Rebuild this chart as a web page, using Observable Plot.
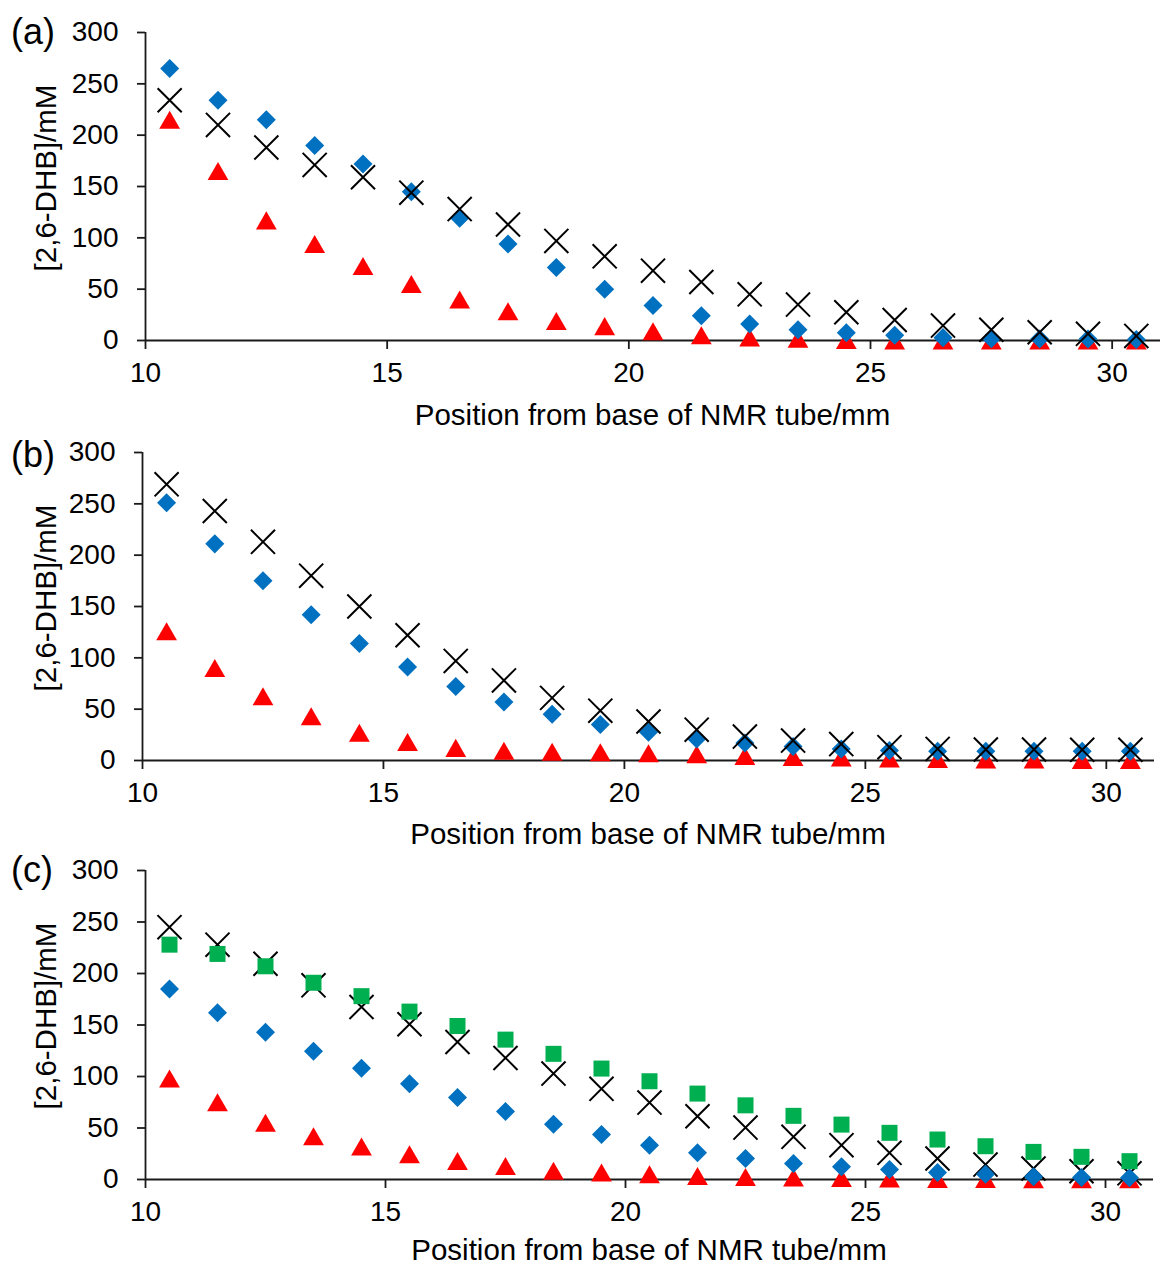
<!DOCTYPE html>
<html>
<head>
<meta charset="utf-8">
<script src="https://cdn.jsdelivr.net/npm/d3@7"></script>
<script src="https://cdn.jsdelivr.net/npm/@observablehq/plot@0.6"></script>
<style>
  html, body { margin: 0; padding: 0; background: #ffffff; }
  #chart { width: 1161px; height: 1266px; overflow: hidden; background: #fff; }
  #chart svg { display: block; overflow: visible; background: transparent; }
</style>
</head>
<body>
<div id="chart"></div>
<script>
// ---------- data ----------
const position = [10.5, 11.5, 12.5, 13.5, 14.5, 15.5, 16.5, 17.5, 18.5, 19.5, 20.5,
                  21.5, 22.5, 23.5, 24.5, 25.5, 26.5, 27.5, 28.5, 29.5, 30.5];
const xTicks = [10, 15, 20, 25, 30];
const yTicks = [0, 50, 100, 150, 200, 250, 300];
const panelLabels = ["(a)", "(b)", "(c)"];
const xTitle = "Position from base of NMR tube/mm";
const yTitle = "[2,6-DHB]/mM";

// panel (a)
const aTriangle = [215, 165, 117, 94, 72.5, 55, 40, 28.5, 19, 14, 9, 5, 3, 1.6, 0.6, 0, 0, 0, 0, 0, 0];
const aDiamond  = [265, 234, 215, 190, 172, 145, 119, 94, 71, 50, 34, 24, 16, 10.5, 7.5, 5, 2.8, 1.8, 1.5, 1.5, 1];
const aCross    = [234, 210, 188, 171, 159, 144, 128, 113, 97, 82, 68, 57, 45, 35, 27.5, 20, 14.5, 10.5, 8, 6.5, 4.5];

// panel (b)
const bTriangle = [126, 90, 62.5, 43, 27, 18, 12.3, 9.5, 8.5, 8, 7, 6, 4.5, 3.5, 3, 2, 1.5, 1, 1, 0.5, 0.5];
const bDiamond  = [251, 211, 175, 142, 114, 91, 72, 57, 45, 35, 27.5, 21, 17, 13.6, 11.3, 9.7, 9, 9, 9, 9, 9];
const bCross    = [269, 243, 213, 180, 150, 122, 97, 78, 61, 48.5, 38, 30, 23.3, 19.4, 16, 13, 11.3, 10.7, 10.7, 10.4, 10.4];

// panel (c)
const cTriangle = [98, 75, 55, 42, 32, 24.5, 18, 13, 8.4, 6.8, 5, 3.5, 2.5, 2, 1.5, 1, 0.5, 0.5, 0.3, 0.3, 0.3];
const cDiamond  = [185, 162, 143, 124.5, 108, 93, 79.5, 66, 53.7, 43.6, 33.3, 26, 20.4, 15.5, 12.3, 9.7, 6.8, 5.2, 2.6, 2, 1.8];
const cCross    = [245, 228, 209.5, 188.5, 167.5, 150.7, 133.5, 118, 102.8, 88, 74.7, 61.4, 50.4, 41.4, 33.3, 25.9, 20.4, 14.5, 10.7, 8, 6];
const cSquare   = [228, 219, 207, 191, 178, 163, 149, 135.8, 122, 107.7, 95.4, 83.4, 72, 61.8, 53.3, 45.3, 38.8, 32.3, 26.8, 22, 17.8];

// ---------- styles ----------
const FONT = "'Liberation Sans', Arial, Helvetica, sans-serif";
const AXIS = "#1a1a1a";
const styles = {
  triangle: {symbol: "triangle", r: 7.72, fill: "#FF0000", stroke: "none", dy: 3},
  diamond:  {symbol: "diamond2", r: 8.56, fill: "#0070C0", stroke: "none"},
  cross:    {symbol: "times", r: 11.0, fill: "none", stroke: "#000000", strokeWidth: 2},
  square:   {symbol: "square", r: 9.03, fill: "#00B050", stroke: "none"}
};

function pts(values) {
  return position.map((x, i) => ({x, y: values[i]}));
}

function panel({label, series, height, mt, mb, ml, mr, labelBaseline, titleGap}) {
  const svg = Plot.plot({
    width: 1161,
    height,
    marginTop: mt,
    marginBottom: mb,
    marginLeft: ml,
    marginRight: mr,
    style: {fontFamily: FONT, fontSize: "28px", color: "#000", background: "transparent", overflow: "visible"},
    x: {domain: [10, 31]},
    y: {domain: [0, 300]},
    marks: [
      Plot.axisY({ticks: yTicks, tickSize: 8, tickPadding: 19, label: null, tickFormat: d => String(d),
                  stroke: AXIS, strokeWidth: 1.8, fill: "#000", fontSize: 28}),
      Plot.axisX({ticks: xTicks, tickSize: 9, tickPadding: 13, label: null, tickFormat: d => String(d),
                  stroke: AXIS, strokeWidth: 1.8, fill: "#000", fontSize: 28}),
      Plot.ruleX([10], {stroke: AXIS, strokeWidth: 1.8}),
      Plot.ruleY([0], {stroke: AXIS, strokeWidth: 1.8}),
      ...series.map(([kind, values]) => Plot.dot(pts(values), {x: "x", y: "y", ...styles[kind]}))
    ]
  });
  svg.style.overflow = "visible";
  const s = d3.select(svg);
  const y0 = height - mb;
  // panel letter
  s.append("text").text(label)
    .attr("x", 11).attr("y", labelBaseline)
    .attr("text-anchor", "start")
    .attr("font-family", FONT).attr("font-size", 36).attr("fill", "#000");
  // y title
  s.append("text").text(yTitle)
    .attr("transform", `translate(56,${mt + 146}) rotate(-90)`)
    .attr("text-anchor", "middle")
    .attr("font-family", FONT).attr("font-size", 29.5).attr("fill", "#000");
  // x title
  s.append("text").text(xTitle)
    .attr("x", (ml + 1161 - mr) / 2).attr("y", y0 + titleGap)
    .attr("text-anchor", "middle")
    .attr("font-family", FONT).attr("font-size", 29.5).attr("fill", "#000");
  return svg;
}

const chart = document.getElementById("chart");
chart.appendChild(panel({
  label: panelLabels[0], height: 420, mt: 32, mb: 80, ml: 145, mr: 1,
  labelBaseline: 44, titleGap: 85,
  series: [["triangle", aTriangle], ["diamond", aDiamond], ["cross", aCross]]
}));
chart.appendChild(panel({
  label: panelLabels[1], height: 420, mt: 32, mb: 80, ml: 142, mr: 7,
  labelBaseline: 47, titleGap: 84,
  series: [["triangle", bTriangle], ["diamond", bDiamond], ["cross", bCross]]
}));
chart.appendChild(panel({
  label: panelLabels[2], height: 426, mt: 30, mb: 87, ml: 145, mr: 8,
  labelBaseline: 42, titleGap: 81,
  series: [["triangle", cTriangle], ["cross", cCross], ["diamond", cDiamond], ["square", cSquare]]
}));
</script>
</body>
</html>
